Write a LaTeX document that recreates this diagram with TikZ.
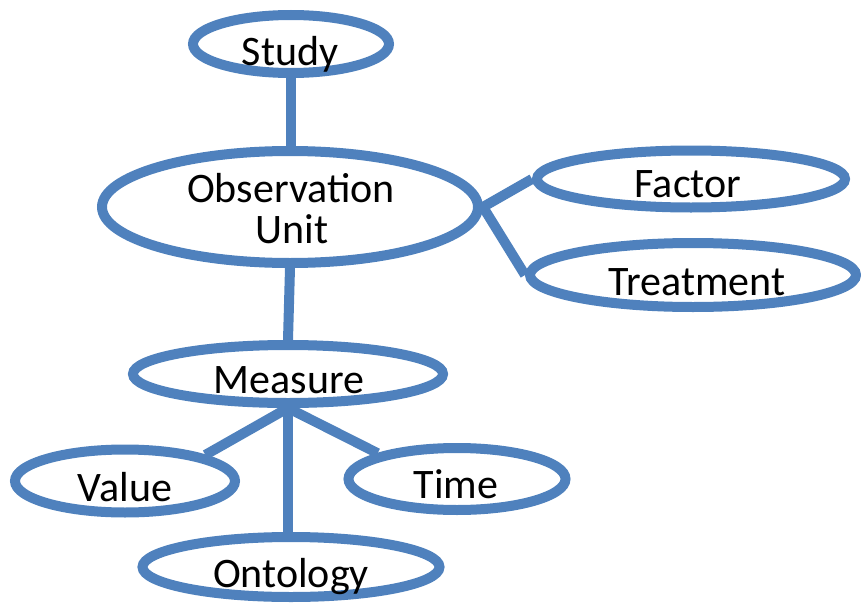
\documentclass[tikz,border=0pt]{standalone}
\usepackage{fontspec}
\setmainfont{Carlito}
\usetikzlibrary{shapes.geometric}
\definecolor{eblue}{RGB}{79,129,189}
\tikzset{
  ent/.style={ellipse, draw=eblue, line width=7.5pt, inner sep=0pt, fill=none},
  lbl/.style={anchor=base, inner sep=0pt, font=\fontsize{31.5pt}{30.75pt}\selectfont, text=black},
  conn/.style={draw=eblue, line width=7.5pt}
}
\begin{document}
\begin{tikzpicture}[x=0.75pt, y=-0.75pt]
\useasboundingbox (0,0) rectangle (861,603);
% connectors first (drawn beneath)
\node[ent, minimum width=196*0.75pt, minimum height=58*0.75pt] (study) at (291,44) {};
\node[ent, minimum width=376*0.75pt, minimum height=112*0.75pt] (obs) at (290,207) {};
\node[ent, minimum width=308*0.75pt, minimum height=57*0.75pt] (factor) at (691,179) {};
\node[ent, minimum width=326*0.75pt, minimum height=64*0.75pt] (treat) at (693,275) {};
\node[ent, minimum width=310*0.75pt, minimum height=58*0.75pt] (measure) at (288,374) {};
\node[ent, minimum width=220*0.75pt, minimum height=63*0.75pt] (value) at (125,481) {};
\node[ent, minimum width=217*0.75pt, minimum height=62*0.75pt] (time) at (457,479) {};
\node[ent, minimum width=297*0.75pt, minimum height=60*0.75pt] (onto) at (291,567) {};

\draw[conn] (study.south) -- (study.south |- obs.north);
\draw[conn] (obs.south) -- (measure.north);
\draw[conn] (obs.east) -- (factor.west);
\draw[conn] (obs.east) -- (treat.west);
\draw[conn] (measure.south) -- (value.18);
\draw[conn] (measure.south) -- (time.162);
\draw[conn] (measure.south) -- (measure.south |- onto.north);

\node[lbl] (tstudy) at (290,65) {Study};
\node[lbl] (tobs1) at (291,202) {Observation};
\node[lbl] (tobs2) at (292,243) {Unit};
\node[lbl] (tfactor) at (688,197) {Factor};
\node[lbl] (ttreat) at (697,295) {Treatment};
\node[lbl] (tmeasure) at (289,393) {Measure};
\node[lbl] (tvalue) at (125,501) {Value};
\node[lbl] (ttime) at (456,498) {Time};
\node[lbl] (tonto) at (291,587) {Ontology};
\end{tikzpicture}
\end{document}
